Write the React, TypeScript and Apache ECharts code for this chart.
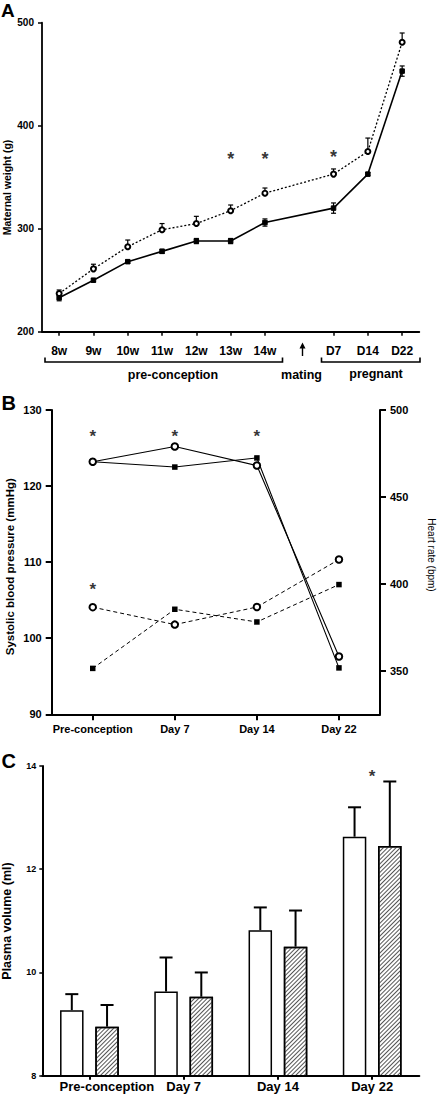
import React, { useEffect, useRef } from "react";
import * as echarts from "echarts";

// ---------- Panel A: maternal weight ----------
const weekCats = ["8w", "9w", "10w", "11w", "12w", "13w", "14w", "", "D7", "D14", "D22"];
const weightOpenMean = [237, 261, 282.5, 299, 305, 317.5, 334.5, null, 353, 375, 481];
const weightOpenSem = [3.5, 4.5, 6.5, 6, 7, 5.5, 5, null, 5, 13, 9];
const weightFilledMean = [233, 250, 268, 278, 288, 288, 306, null, 320, 353, 453];
const weightFilledSem = [3, 1.5, 1.5, 2, 2.5, 2.5, 3.5, null, 5, 1.5, 5];
const weightStarCats = ["13w", "14w", "D7", "D22"];
const weightStarVals = [371.5, 371.5, 373.5, 501];
const weightTicks = [200, 300, 400, 500];

// ---------- Panel B: SBP and heart rate ----------
const bpCats = ["Pre-conception", "Day 7", "Day 14", "Day 22"];
const sbpOpen = [123.2, 125.2, 122.7, 97.6];
const sbpFilled = [123.2, 122.5, 123.7, 96.1];
const hrOpen = [386.6, 376.6, 386.7, 414];
const hrFilled = [351.4, 385.4, 378.1, 399.6];
const bpStarCats = ["Pre-conception", "Day 7", "Day 14", "Pre-conception"];
const bpStarVals = [127.1, 127.1, 127.0, 106.9];
const hrTicks = [350, 400, 450, 500];

// ---------- Panel C: plasma volume ----------
const pvCats = ["Pre-conception", "Day 7", "Day 14", "Day 22"];
const pvOpen = [9.27, 9.63, 10.82, 12.63];
const pvOpenSem = [0.31, 0.66, 0.44, 0.57];
const pvHatched = [8.95, 9.53, 10.5, 12.45];
const pvHatchedSem = [0.42, 0.47, 0.7, 1.25];
const pvStarCats = ["Day 22"];
const pvStarVals = [13.87];

const FONT = "Liberation Sans, Arial, Helvetica, sans-serif";
const BAR_W = 23.5;
const BAR_OFFSET = (BAR_W * 1.5) / 2;

function errRender(capW: number, lw: number, offset: number, bothCaps: boolean) {
  return (params: any, api: any) => {
    const i = api.value(0);
    const lo = api.value(1);
    const hi = api.value(2);
    const p1 = api.coord([i, lo]);
    const p2 = api.coord([i, hi]);
    const x = p1[0] + offset;
    const st = { stroke: "#000", lineWidth: lw };
    const children: any[] = [
      { type: "line", shape: { x1: x, y1: p1[1], x2: x, y2: p2[1] }, style: st },
      { type: "line", shape: { x1: x - capW / 2, y1: p2[1], x2: x + capW / 2, y2: p2[1] }, style: st },
    ];
    if (bothCaps) {
      children.push({ type: "line", shape: { x1: x - capW / 2, y1: p1[1], x2: x + capW / 2, y2: p1[1] }, style: st });
    }
    return { type: "group", children };
  };
}

function axisBase(lw: number) {
  return {
    axisLine: { show: true, onZero: false, lineStyle: { color: "#000", width: lw } },
    splitLine: { show: false },
  };
}

export default function App() {
  const ref = useRef<HTMLDivElement>(null);
  useEffect(() => {
    if (!ref.current) return;
    const chart = echarts.init(ref.current, null, { renderer: "svg" });

    const openErrA = weightOpenMean
      .map((m, i) => (m == null ? null : [i, m, m + (weightOpenSem[i] as number)]))
      .filter((d) => d !== null);
    const filledErrA = weightFilledMean
      .map((m, i) => (m == null ? null : [i, m - (weightFilledSem[i] as number), m + (weightFilledSem[i] as number)]))
      .filter((d) => d !== null);
    const openErrC = pvOpen.map((m, i) => [i, m, m + pvOpenSem[i]]);
    const hatchErrC = pvHatched.map((m, i) => [i, m, m + pvHatchedSem[i]]);

    const starLabel = (size: number, dy: number) => ({
      show: true,
      formatter: "*",
      position: "inside",
      offset: [0, dy],
      color: "#000",
      fontSize: size,
      fontWeight: "bold",
      fontFamily: FONT,
    });

    const option: any = {
      animation: false,
      backgroundColor: "#fff",
      textStyle: { fontFamily: FONT },
      grid: [
        { left: 42, top: 22.7, width: 377.3, height: 309, containLabel: false, outerBoundsMode: "none" },
        { left: 51.7, top: 410, width: 328.3, height: 304.3, containLabel: false, outerBoundsMode: "none" },
        { left: 42.3, top: 766, width: 377, height: 309.7, containLabel: false, outerBoundsMode: "none" },
      ],
      xAxis: [
        {
          type: "category",
          gridIndex: 0,
          data: weekCats,
          boundaryGap: true,
          ...axisBase(1.8),
          axisTick: {
            show: true,
            alignWithLabel: true,
            length: 4,
            inside: false,
            interval: (idx: number) => idx !== 7,
            lineStyle: { color: "#000", width: 1.5 },
          },
          axisLabel: { interval: 0, margin: 13, color: "#000", fontSize: 12, fontWeight: "bold", fontFamily: FONT },
        },
        {
          type: "category",
          gridIndex: 1,
          data: bpCats,
          boundaryGap: true,
          ...axisBase(2),
          axisTick: { show: true, alignWithLabel: true, length: 6, lineStyle: { color: "#000", width: 2 } },
          axisLabel: { interval: 0, margin: 9, color: "#000", fontSize: 11, fontWeight: "bold", fontFamily: FONT },
        },
        {
          type: "category",
          gridIndex: 2,
          data: pvCats,
          boundaryGap: true,
          ...axisBase(2),
          axisTick: { show: true, alignWithLabel: true, length: 4, lineStyle: { color: "#000", width: 2 } },
          axisLabel: {
            interval: 0,
            margin: 4.5,
            color: "#000",
            fontSize: 13,
            fontWeight: "bold",
            fontFamily: FONT,
            formatter: (v: string, i: number) => (i === 0 ? "{first|" + v + "}" : v),
            rich: {
              first: {
                fontSize: 13,
                fontWeight: "bold",
                fontFamily: FONT,
                color: "#000",
                padding: [0, 0, 0, 35],
              },
            },
          },
        },
      ],
      yAxis: [
        {
          type: "value",
          gridIndex: 0,
          min: 200,
          max: 500,
          interval: 100,
          ...axisBase(1.8),
          axisTick: { show: true, length: 4, lineStyle: { color: "#000", width: 1.5 } },
          axisLabel: {
            margin: 8,
            color: "#000",
            fontSize: 10,
            fontWeight: "bold",
            fontFamily: FONT,
            customValues: weightTicks,
          },
        },
        {
          type: "value",
          gridIndex: 1,
          min: 90,
          max: 130,
          interval: 10,
          ...axisBase(2),
          axisTick: { show: true, length: 6, lineStyle: { color: "#000", width: 2 } },
          axisLabel: { margin: 10, color: "#000", fontSize: 11, fontWeight: "bold", fontFamily: FONT },
        },
        {
          type: "value",
          gridIndex: 1,
          position: "right",
          min: 325,
          max: 500,
          ...axisBase(2),
          axisTick: { show: true, length: 6, customValues: hrTicks, lineStyle: { color: "#000", width: 2 } },
          axisLabel: {
            margin: 10,
            color: "#000",
            fontSize: 11,
            fontWeight: "bold",
            fontFamily: FONT,
            customValues: hrTicks,
          },
        },
        {
          type: "value",
          gridIndex: 2,
          min: 8,
          max: 14,
          interval: 2,
          ...axisBase(2),
          axisTick: { show: true, length: 3, lineStyle: { color: "#000", width: 1.5 } },
          axisLabel: { margin: 6, color: "#000", fontSize: 9, fontWeight: "bold", fontFamily: FONT },
        },
      ],
      series: [
        // Panel A
        {
          type: "custom",
          xAxisIndex: 0,
          yAxisIndex: 0,
          renderItem: errRender(5, 1.2, 0, false),
          data: openErrA,
          z: 2,
          silent: true,
        },
        {
          type: "custom",
          xAxisIndex: 0,
          yAxisIndex: 0,
          renderItem: errRender(5, 1.2, 0, true),
          data: filledErrA,
          z: 2,
          silent: true,
        },
        {
          name: "Open",
          type: "line",
          xAxisIndex: 0,
          yAxisIndex: 0,
          data: weightOpenMean.map((v) => (v == null ? "-" : v)),
          connectNulls: true,
          symbol: "emptyCircle",
          symbolSize: 5,
          lineStyle: { color: "#000", width: 1.3, type: [2, 2] },
          itemStyle: { color: "#000", borderColor: "#000", borderWidth: 1 },
          z: 3,
        },
        {
          name: "Filled",
          type: "line",
          xAxisIndex: 0,
          yAxisIndex: 0,
          data: weightFilledMean.map((v) => (v == null ? "-" : v)),
          connectNulls: true,
          symbol: "rect",
          symbolSize: 4.5,
          lineStyle: { color: "#000", width: 1.6, type: "solid" },
          itemStyle: { color: "#000", borderColor: "#000" },
          z: 3,
        },
        {
          type: "scatter",
          xAxisIndex: 0,
          yAxisIndex: 0,
          symbolSize: 0,
          data: weightStarCats.map((c, i) => [c, weightStarVals[i]]),
          label: starLabel(18, 4),
          silent: true,
        },
        // Panel B
        {
          type: "line",
          xAxisIndex: 1,
          yAxisIndex: 1,
          data: sbpFilled,
          symbol: "rect",
          symbolSize: 5.5,
          lineStyle: { color: "#000", width: 1.1 },
          itemStyle: { color: "#000" },
          z: 3,
        },
        {
          type: "line",
          xAxisIndex: 1,
          yAxisIndex: 1,
          data: sbpOpen,
          symbol: "emptyCircle",
          symbolSize: 6.5,
          lineStyle: { color: "#000", width: 1.1 },
          itemStyle: { color: "#000", borderColor: "#000", borderWidth: 1.8 },
          z: 4,
        },
        {
          type: "line",
          xAxisIndex: 1,
          yAxisIndex: 2,
          data: hrFilled,
          symbol: "rect",
          symbolSize: 5.5,
          lineStyle: { color: "#000", width: 1, type: [4, 3] },
          itemStyle: { color: "#000" },
          z: 3,
        },
        {
          type: "line",
          xAxisIndex: 1,
          yAxisIndex: 2,
          data: hrOpen,
          symbol: "emptyCircle",
          symbolSize: 6.5,
          lineStyle: { color: "#000", width: 1, type: [4, 3] },
          itemStyle: { color: "#000", borderColor: "#000", borderWidth: 1.8 },
          z: 4,
        },
        {
          type: "scatter",
          xAxisIndex: 1,
          yAxisIndex: 1,
          symbolSize: 0,
          data: bpStarCats.map((c, i) => [c, bpStarVals[i]]),
          label: starLabel(17, 4),
          silent: true,
        },
        // Panel C
        {
          type: "bar",
          xAxisIndex: 2,
          yAxisIndex: 3,
          data: pvOpen,
          barWidth: BAR_W,
          barGap: "50%",
          itemStyle: { color: "#fff", borderColor: "#000", borderWidth: 1.5 },
          z: 2,
        },
        {
          type: "bar",
          xAxisIndex: 2,
          yAxisIndex: 3,
          data: pvHatched,
          barWidth: BAR_W,
          barGap: "50%",
          itemStyle: {
            color: "#fff",
            borderColor: "#000",
            borderWidth: 1.5,
            decal: {
              symbol: "rect",
              symbolSize: 1,
              dashArrayX: [1, 0],
              dashArrayY: [1, 1.8],
              rotation: -Math.PI / 4,
              color: "#555",
              backgroundColor: "#fff",
            },
          },
          z: 2,
        },
        {
          type: "custom",
          xAxisIndex: 2,
          yAxisIndex: 3,
          renderItem: errRender(13, 2, -BAR_OFFSET, false),
          data: openErrC,
          z: 1,
          silent: true,
        },
        {
          type: "custom",
          xAxisIndex: 2,
          yAxisIndex: 3,
          renderItem: errRender(13, 2, BAR_OFFSET, false),
          data: hatchErrC,
          z: 1,
          silent: true,
        },
        {
          type: "scatter",
          xAxisIndex: 2,
          yAxisIndex: 3,
          symbolSize: 0,
          data: pvStarCats.map((c, i) => [c, pvStarVals[i]]),
          label: starLabel(17, 4),
          silent: true,
        },
      ],
      graphic: [
        // panel letters
        { type: "text", x: 1, y: 10, style: { text: "A", font: `bold 19px ${FONT}`, fill: "#000", verticalAlign: "middle" } },
        { type: "text", x: 1.5, y: 402.5, style: { text: "B", font: `bold 20px ${FONT}`, fill: "#000", verticalAlign: "middle" } },
        { type: "text", x: 1.5, y: 761, style: { text: "C", font: `bold 20px ${FONT}`, fill: "#000", verticalAlign: "middle" } },
        // axis titles
        {
          type: "text", x: 7, y: 187.5, rotation: Math.PI / 2,
          style: { text: "Maternal weight (g)", font: `bold 10.5px ${FONT}`, fill: "#000", align: "center", verticalAlign: "middle" },
        },
        {
          type: "text", x: 10, y: 566.7, rotation: Math.PI / 2,
          style: { text: "Systolic blood pressure (mmHg)", font: `bold 11.5px ${FONT}`, fill: "#000", align: "center", verticalAlign: "middle" },
        },
        {
          type: "text", x: 431, y: 555, rotation: -Math.PI / 2,
          style: { text: "Heart rate (bpm)", font: `10px ${FONT}`, fill: "#000", align: "center", verticalAlign: "middle" },
        },
        {
          type: "text", x: 6.5, y: 921, rotation: Math.PI / 2,
          style: { text: "Plasma volume (ml)", font: `bold 12.5px ${FONT}`, fill: "#000", align: "center", verticalAlign: "middle" },
        },
        // panel A group brackets and labels
        {
          type: "polyline",
          shape: { points: [[45, 357.5], [45, 362], [282.5, 362], [282.5, 357.5]] },
          style: { stroke: "#000", lineWidth: 1.6, fill: null },
        },
        {
          type: "polyline",
          shape: { points: [[321.5, 357.5], [321.5, 362], [420, 362], [420, 357.5]] },
          style: { stroke: "#000", lineWidth: 1.6, fill: null },
        },
        { type: "line", shape: { x1: 302.5, y1: 356, x2: 302.5, y2: 347 }, style: { stroke: "#000", lineWidth: 1.4 } },
        { type: "polygon", shape: { points: [[299.5, 348.5], [305.5, 348.5], [302.5, 342.5]] }, style: { fill: "#000" } },
        {
          type: "text", x: 173, y: 375,
          style: { text: "pre-conception", font: `bold 12.5px ${FONT}`, fill: "#000", align: "center", verticalAlign: "middle" },
        },
        {
          type: "text", x: 301.5, y: 375,
          style: { text: "mating", font: `bold 12.5px ${FONT}`, fill: "#000", align: "center", verticalAlign: "middle" },
        },
        {
          type: "text", x: 376, y: 374,
          style: { text: "pregnant", font: `bold 12.5px ${FONT}`, fill: "#000", align: "center", verticalAlign: "middle" },
        },
      ],
    };
    chart.setOption(option);
    return () => chart.dispose();
  }, []);
  return (
    <div
      ref={ref}
      style={{ position: "absolute", left: 0, top: 0, width: 437, height: 1094, background: "#fff" }}
    />
  );
}
